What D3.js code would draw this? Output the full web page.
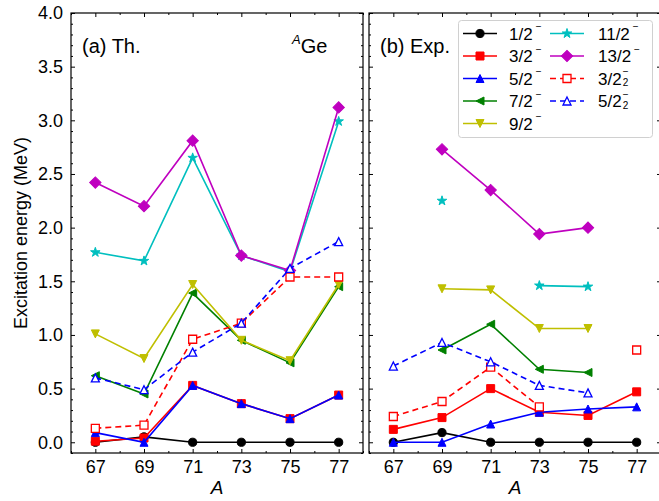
<!DOCTYPE html>
<html>
<head>
<meta charset="utf-8">
<script src="https://cdn.jsdelivr.net/npm/d3@7"></script>
<style>
  html, body { margin: 0; padding: 0; background: #fff; }
  svg { display: block; font-family: "Liberation Sans", Arial, sans-serif; }
</style>
</head>
<body>
<svg id="chart" width="659" height="501"></svg>
<script>
// Mass numbers of the Ge isotopes
const massNumbers = [67, 69, 71, 73, 75, 77];
const xTicks = [67, 69, 71, 73, 75, 77];
const yTicks = [0.0, 0.5, 1.0, 1.5, 2.0, 2.5, 3.0, 3.5, 4.0];

// (a) theory, excitation energies in MeV
const th_1_2 = [0.00, 0.05, 0.00, 0.00, 0.00, 0.00];
const th_3_2 = [0.01, 0.04, 0.53, 0.36, 0.22, 0.44];
const th_5_2 = [0.09, 0.00, 0.53, 0.36, 0.22, 0.44];
const th_7_2 = [0.62, 0.45, 1.39, 0.95, 0.74, 1.45];
const th_9_2 = [1.01, 0.78, 1.47, 0.95, 0.76, 1.47];
const th_11_2 = [1.77, 1.69, 2.65, 1.74, 1.59, 2.99];
const th_13_2 = [2.42, 2.20, 2.81, 1.74, 1.60, 3.12];
const th_3_2b = [0.13, 0.16, 0.96, 1.11, 1.54, 1.54];
const th_5_2b = [0.60, 0.49, 0.84, 1.11, 1.62, 1.87];

// (b) experiment, excitation energies in MeV (null = not observed)
const ex_1_2 = [0.00, 0.09, 0.00, 0.00, 0.00, 0.00];
const ex_3_2 = [0.12, 0.23, 0.50, 0.28, 0.25, 0.47];
const ex_5_2 = [0.00, 0.00, 0.17, 0.28, 0.31, 0.33];
const ex_7_2 = [null, 0.86, 1.10, 0.68, 0.65, null];
const ex_9_2 = [null, 1.43, 1.42, 1.06, 1.06, null];
const ex_11_2 = [null, 2.25, null, 1.46, 1.45, null];
const ex_13_2 = [null, 2.73, 2.35, 1.94, 2.00, null];
const ex_3_2b = [0.24, 0.38, 0.70, 0.33, null, 0.86];
const ex_5_2b = [0.71, 0.93, 0.75, 0.53, 0.46, null];

// Level styles
const levels = [
  { key: "1/2",  sub: null, color: "#000000", marker: "circle",   open: false, dashed: false, th: th_1_2,  ex: ex_1_2 },
  { key: "3/2",  sub: null, color: "#ff0000", marker: "square",   open: false, dashed: false, th: th_3_2,  ex: ex_3_2 },
  { key: "5/2",  sub: null, color: "#0000ff", marker: "triUp",    open: false, dashed: false, th: th_5_2,  ex: ex_5_2 },
  { key: "7/2",  sub: null, color: "#008000", marker: "triLeft",  open: false, dashed: false, th: th_7_2,  ex: ex_7_2 },
  { key: "9/2",  sub: null, color: "#bfbf00", marker: "triDown",  open: false, dashed: false, th: th_9_2,  ex: ex_9_2 },
  { key: "11/2", sub: null, color: "#00bfbf", marker: "star",     open: false, dashed: false, th: th_11_2, ex: ex_11_2 },
  { key: "13/2", sub: null, color: "#bf00bf", marker: "diamond",  open: false, dashed: false, th: th_13_2, ex: ex_13_2 },
  { key: "3/2",  sub: "2",  color: "#ff0000", marker: "square",   open: true,  dashed: true,  th: th_3_2b, ex: ex_3_2b },
  { key: "5/2",  sub: "2",  color: "#0000ff", marker: "triUp",    open: true,  dashed: true,  th: th_5_2b, ex: ex_5_2b }
];

const svg = d3.select("#chart");
const panelTop = 13, panelBottom = 453;
const y = d3.scaleLinear().domain([-0.1, 4.0]).range([panelBottom, panelTop]);
const xA = d3.scaleLinear().domain([66, 78]).range([71, 363]);
const xB = d3.scaleLinear().domain([66, 78]).range([369, 661]);

const MS = 8; // marker size in px
function markerPath(type) {
  const h = MS / 2;
  const tri = `M0,${-h}L${h},${h}L${-h},${h}Z`;
  switch (type) {
    case "circle": return { d: d3.symbol().type(d3.symbolCircle).size(Math.PI * h * h * 1.05)(), rot: 0 };
    case "square": return { d: `M${-h},${-h}H${h}V${h}H${-h}Z`, rot: 0 };
    case "triUp": return { d: tri, rot: 0 };
    case "triDown": return { d: tri, rot: 180 };
    case "triLeft": return { d: tri, rot: -90 };
    case "star": return { d: d3.symbol().type(d3.symbolStar).size(28)(), rot: 0 };
    case "diamond": return { d: `M${-h},${-h}H${h}V${h}H${-h}Z`, rot: 45 };
  }
}

function drawMarker(g, type, cx, cy, color, open) {
  const m = markerPath(type);
  g.append("path")
    .attr("d", m.d)
    .attr("transform", `translate(${cx},${cy}) rotate(${m.rot})`)
    .attr("fill", open ? "#fff" : color)
    .attr("stroke", color)
    .attr("stroke-linejoin", "miter")
    .attr("stroke-width", open ? 1.3 : 1);
}

function drawPanel(x, field, label, showYLabels) {
  const g = svg.append("g");
  const [x0, x1] = x.range();

  // series
  levels.forEach(lv => {
    const vals = lv[field];
    const pts = massNumbers.map((a, i) => ({ a, v: vals[i] }));
    const line = d3.line()
      .defined(d => d.v !== null)
      .x(d => x(d.a)).y(d => y(d.v));
    g.append("path")
      .datum(pts)
      .attr("d", line)
      .attr("fill", "none")
      .attr("stroke", lv.color)
      .attr("stroke-width", 1.6)
      .attr("stroke-dasharray", lv.dashed ? "6,4" : null);
    pts.filter(d => d.v !== null).forEach(d =>
      drawMarker(g, lv.marker, x(d.a), y(d.v), lv.color, lv.open));
  });

  // axes with inward ticks on all sides
  const minorX = d3.range(66, 79, 2);
  const minorY = d3.range(-0.1, 4.001, 0.1).map(v => +v.toFixed(1)).filter(v => Math.abs(v * 10 % 5) > 0.01);
  const styleAxis = sel => {
    sel.select(".domain").remove();
    sel.selectAll("line").attr("stroke", "#000").attr("stroke-width", 1);
    sel.selectAll("text").attr("font-size", 18).attr("fill", "#000")
      .attr("font-family", "'Liberation Sans', Arial, sans-serif");
  };

  g.append("g").attr("transform", `translate(0,${panelBottom})`)
    .call(d3.axisBottom(x).tickValues(xTicks).tickSize(-4).tickPadding(7).tickFormat(d3.format("d")))
    .call(styleAxis);
  g.append("g").attr("transform", `translate(0,${panelBottom})`)
    .call(d3.axisBottom(x).tickValues(minorX).tickSize(-2).tickFormat(""))
    .call(styleAxis);
  g.append("g").attr("transform", `translate(0,${panelTop})`)
    .call(d3.axisTop(x).tickValues(xTicks).tickSize(-4).tickFormat(""))
    .call(styleAxis);
  g.append("g").attr("transform", `translate(0,${panelTop})`)
    .call(d3.axisTop(x).tickValues(minorX).tickSize(-2).tickFormat(""))
    .call(styleAxis);

  g.append("g").attr("transform", `translate(${x0},0)`)
    .call(d3.axisLeft(y).tickValues(yTicks).tickSize(-4).tickPadding(8)
      .tickFormat(showYLabels ? d3.format(".1f") : ""))
    .call(styleAxis);
  g.append("g").attr("transform", `translate(${x0},0)`)
    .call(d3.axisLeft(y).tickValues(minorY).tickSize(-2).tickFormat(""))
    .call(styleAxis);
  g.append("g").attr("transform", `translate(${x1},0)`)
    .call(d3.axisRight(y).tickValues(yTicks).tickSize(-4).tickFormat(""))
    .call(styleAxis);
  g.append("g").attr("transform", `translate(${x1},0)`)
    .call(d3.axisRight(y).tickValues(minorY).tickSize(-2).tickFormat(""))
    .call(styleAxis);

  // frame
  g.append("rect")
    .attr("x", x0).attr("y", panelTop)
    .attr("width", x1 - x0).attr("height", panelBottom - panelTop)
    .attr("fill", "none").attr("stroke", "#000").attr("stroke-width", 1.2);

  // panel label
  g.append("text").attr("x", x0 + 11).attr("y", 53)
    .attr("font-size", 20).text(label);

  // x axis title
  g.append("text")
    .attr("x", x(72)).attr("y", 494)
    .attr("text-anchor", "middle").attr("font-size", 19)
    .attr("font-style", "italic").text("A");
  return g;
}

const gA = drawPanel(xA, "th", "(a) Th.", true);
drawPanel(xB, "ex", "(b) Exp.", false);

// nucleus label
const nuc = gA.append("text").attr("x", 292).attr("y", 53).attr("font-size", 20);
nuc.append("tspan").attr("font-size", 13).attr("font-style", "italic").attr("dy", -9).text("A");
nuc.append("tspan").attr("dy", 9).text("Ge");

// y axis title
svg.append("text")
  .attr("transform", `translate(27,${(panelTop + panelBottom) / 2}) rotate(-90)`)
  .attr("text-anchor", "middle").attr("font-size", 18)
  .text("Excitation energy (MeV)");

// legend
const leg = svg.append("g");
leg.append("rect")
  .attr("x", 458.5).attr("y", 20.5).attr("width", 194).attr("height", 117)
  .attr("rx", 3).attr("fill", "#fff").attr("fill-opacity", 0.85)
  .attr("stroke", "#d0d0d0").attr("stroke-width", 1);

const rowY = [33.5, 56, 78.5, 101, 123.5];
const cols = [{ hx: 463, tx: 509 }, { hx: 550, tx: 598 }];
levels.forEach((lv, i) => {
  const col = i < 5 ? cols[0] : cols[1];
  const ry = rowY[i < 5 ? i : i - 5];
  leg.append("line")
    .attr("x1", col.hx).attr("x2", col.hx + 34)
    .attr("y1", ry).attr("y2", ry)
    .attr("stroke", lv.color).attr("stroke-width", 1.6)
    .attr("stroke-dasharray", lv.dashed ? "6,4" : null);
  drawMarker(leg, lv.marker, col.hx + 17, ry, lv.color, lv.open);

  // label: J value with parity superscript (and state index subscript)
  const t = leg.append("text").attr("x", col.tx).attr("y", ry + 6)
    .attr("font-size", 17).attr("fill", "#000");
  const main = t.append("tspan").text(lv.key);
  const w = main.node().getComputedTextLength();
  if (lv.sub) {
    t.append("tspan").attr("x", col.tx + w + 1).attr("y", ry + 7.5)
      .attr("font-size", 10).text(lv.sub);
    t.append("tspan").attr("x", col.tx + w + 1).attr("y", ry - 3.5)
      .attr("font-size", 10).text("\u2212");
  } else {
    t.append("tspan").attr("x", col.tx + w + 3).attr("y", ry - 3.5)
      .attr("font-size", 10).text("\u2212");
  }
});
</script>
</body>
</html>
